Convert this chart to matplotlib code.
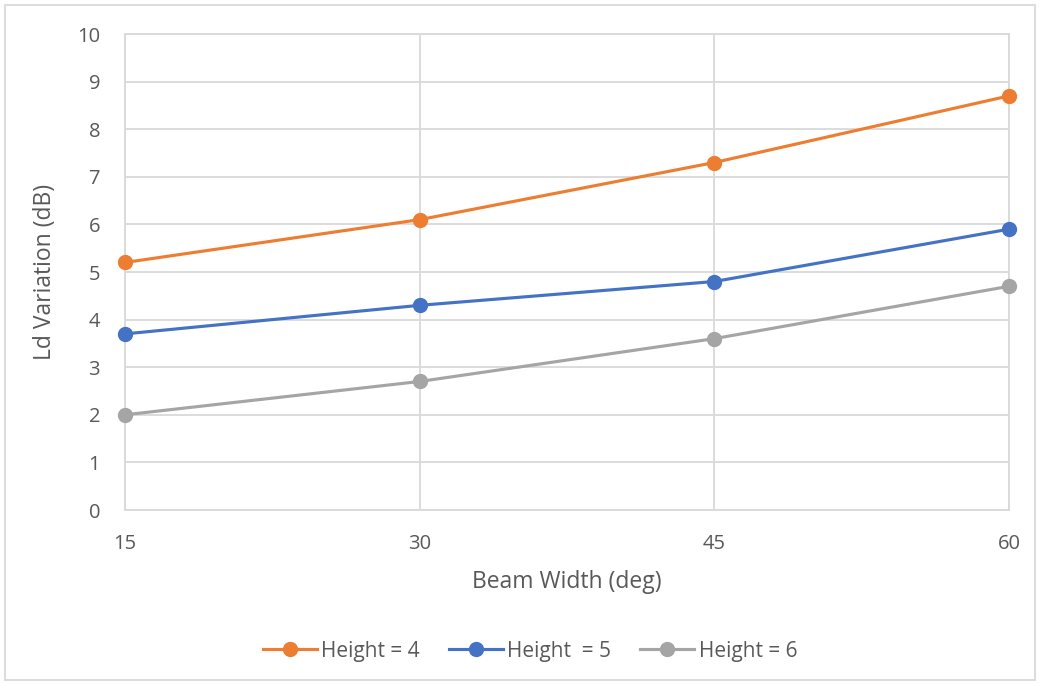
import matplotlib.pyplot as plt
from matplotlib.patches import Rectangle

plt.rcParams['font.family'] = ['Open Sans', 'DejaVu Sans']

beam_width = [15, 30, 45, 60]
height4 = [5.2, 6.1, 7.3, 8.7]
height5 = [3.7, 4.3, 4.8, 5.9]
height6 = [2.0, 2.7, 3.6, 4.7]
labels = ["Height = 4", "Height  = 5", "Height = 6"]
colors = ["#ED7D31", "#4472C4", "#A5A5A5"]

text_color = "#595959"
grid_color = "#D9D9D9"

fig = plt.figure(figsize=(10.39, 6.85), dpi=100)
ax = fig.add_axes([125 / 1039, 1 - 510 / 685, (1009 - 125) / 1039, (510 - 34) / 685])

for ys, lab, c in zip([height4, height5, height6], labels, colors):
    ax.plot(beam_width, ys, color=c, lw=2.25, marker="o", markersize=10,
            label=lab, clip_on=False, zorder=3)

ax.set_xlim(15, 60)
ax.set_ylim(0, 10)
ax.set_xticks(beam_width)
ax.set_yticks(range(0, 11))
ax.grid(True, color=grid_color, lw=1.3)
ax.set_axisbelow(True)
for s in ax.spines.values():
    s.set_color(grid_color)
    s.set_linewidth(1.3)
ax.tick_params(length=0, labelsize=14.5, colors=text_color)
ax.tick_params(axis="x", pad=17)
ax.tick_params(axis="y", pad=18)

ax.set_xlabel("Beam Width (deg)", fontsize=16.5, color=text_color, labelpad=12)
ax.set_ylabel("Ld Variation (dB)", fontsize=16.5, color=text_color, labelpad=14)

leg = fig.legend(loc="center", bbox_to_anchor=(0.51, 1 - 651 / 685), ncol=3,
                 frameon=False, fontsize=15, handlelength=2.6, columnspacing=1.4,
                 handletextpad=0.2, labelcolor=text_color)

fig.patches.append(Rectangle((5 / 1039, 5 / 685), 1030 / 1039, 675 / 685,
                             transform=fig.transFigure, fill=False,
                             edgecolor=grid_color, lw=1.3))

fig.savefig("out.png", dpi=100)
